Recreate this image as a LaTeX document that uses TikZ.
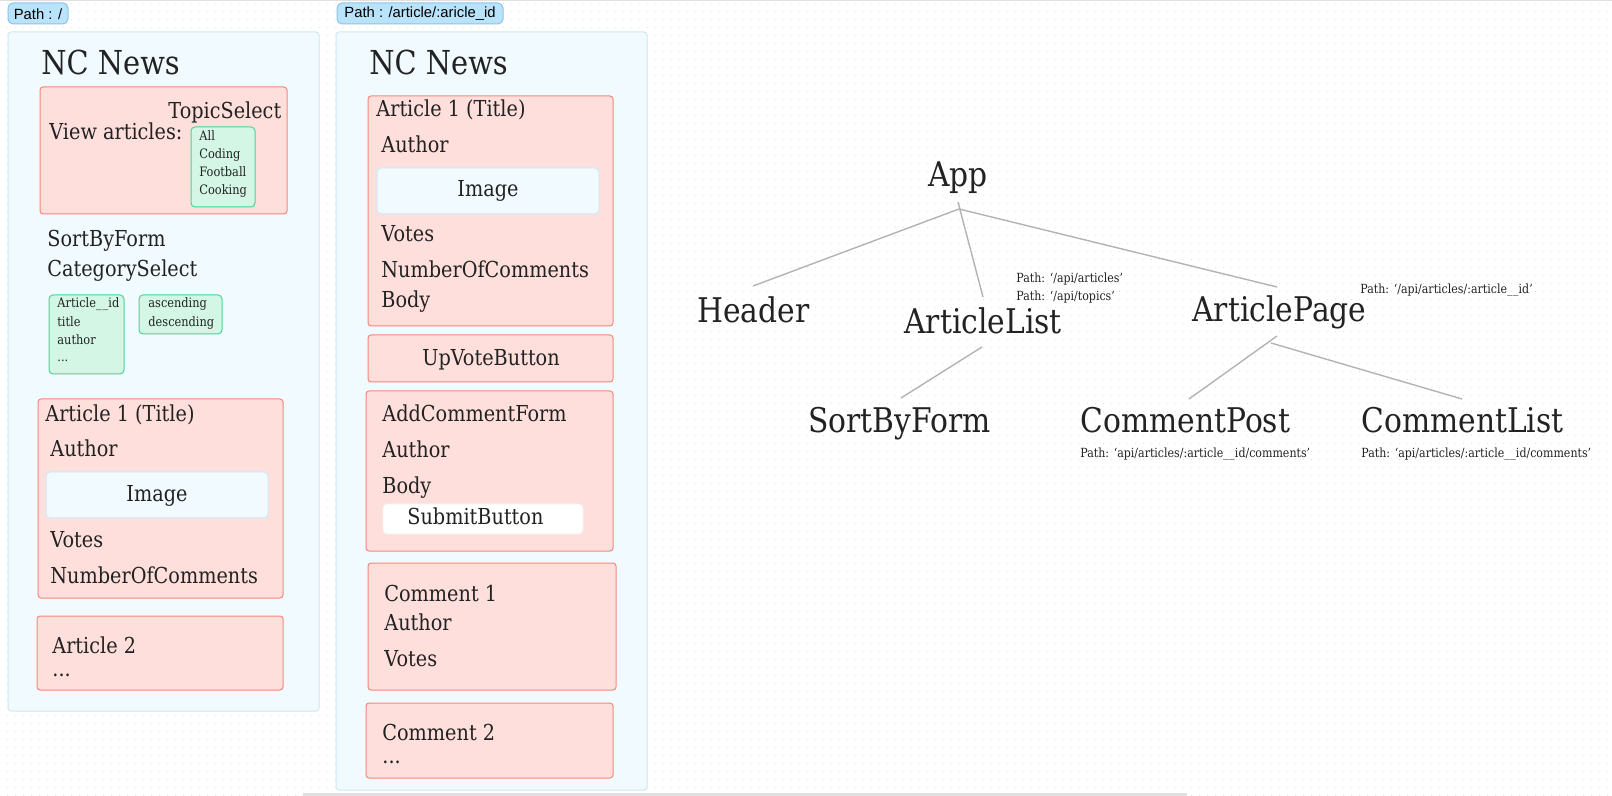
\documentclass[tikz,border=0pt]{standalone}
\usepackage{fontspec}
\setmainfont{DejaVu Serif}[FakeStretch=0.875]
\newfontfamily\badgefont{Liberation Sans}
\usetikzlibrary{patterns}
\definecolor{txt}{HTML}{222222}
\definecolor{panelfill}{HTML}{F1FAFE}
\definecolor{paneldraw}{HTML}{CFE8F7}
\definecolor{pinkfill}{HTML}{FFDFDB}
\definecolor{pinkdraw}{HTML}{F4887A}
\definecolor{greenfill}{HTML}{D3F6E5}
\definecolor{greendraw}{HTML}{45D69A}
\definecolor{badgefill}{HTML}{B9E2FB}
\definecolor{badgedraw}{HTML}{8DC6E8}
\definecolor{edgegrey}{HTML}{B3B3B3}
\definecolor{dotgrey}{HTML}{E4E4E4}
\pgfdeclarepatternformonly{dotgrid}{\pgfpointorigin}{\pgfqpoint{4pt}{4pt}}{\pgfqpoint{4pt}{4pt}}{%
  \pgfpathrectangle{\pgfqpoint{0pt}{0pt}}{\pgfqpoint{0.6pt}{0.6pt}}\pgfusepath{fill}}
\tikzset{
  lbl/.style={anchor=base west, inner sep=0pt, text=txt, font=\fontsize{11pt}{13pt}\selectfont},
  lblc/.style={lbl, anchor=base},
  tiny/.style={lbl, font=\fontsize{6.5pt}{8pt}\selectfont},
  big/.style={lbl, font=\fontsize{16.5pt}{20pt}\selectfont},
  treenode/.style={lbl, font=\fontsize{17pt}{20pt}\selectfont},
  pathlbl/.style={lbl, font=\fontsize{6.3pt}{8pt}\selectfont},
  badgetxt/.style={anchor=center, inner sep=0pt, text=black, font=\badgefont\fontsize{7.4pt}{8pt}\selectfont},
  panel/.style={fill=panelfill, draw=paneldraw, line width=0.5pt, rounded corners=1.5pt},
  pinkbox/.style={fill=pinkfill, draw=pinkdraw, line width=0.5pt, rounded corners=1.5pt},
  greenbox/.style={fill=greenfill, draw=greendraw, line width=0.5pt, rounded corners=2pt},
  imgbox/.style={fill=panelfill, draw=paneldraw, line width=0.5pt, rounded corners=2pt},
  whitebox/.style={fill=white, draw=white!95!black, line width=0.3pt, rounded corners=2pt},
  badgebox/.style={fill=badgefill, draw=badgedraw, line width=0.5pt, rounded corners=2.5pt},
  edge/.style={draw=edgegrey, line width=0.7pt}
}
\begin{document}
\begin{tikzpicture}[x=0.5pt,y=-0.5pt]
\useasboundingbox (0,0) rectangle (1612,796);
\fill[white] (0,0) rectangle (1612,796);
\fill[pattern=dotgrid, pattern color=dotgrey] (0,2) rectangle (1612,796);
\fill[black!12] (0,0) rectangle (1612,1.5);
\fill[black!12] (303,793) rectangle (1187,796);

% badges
\draw[badgebox] (8,3) rectangle (68,24);
\node[badgetxt] (b1) at (38,14) {Path : /};
\draw[badgebox] (337,3) rectangle (503,24);
\node[badgetxt] (b2) at (420,14) {Path : /article/:aricle\_id};

% ---------- left panel ----------
\draw[panel] (8,32) rectangle (319,711);
\node[big] (nc1) at (41,75) {NC News};
\draw[pinkbox] (40,87) rectangle (287,214);
\node[lbl] (topic) at (168,119) {TopicSelect};
\node[lbl] (view) at (49,140) {View articles:};
\draw[greenbox] (191,127) rectangle (255,207);
\node[tiny] (t1) at (199,141) {All};
\node[tiny] (t2) at (199,159) {Coding};
\node[tiny] (t3) at (199,177) {Football};
\node[tiny] (t4) at (199,195) {Cooking};
\node[lbl] (sbf) at (47,247) {SortByForm};
\node[lbl] (cat) at (47,277) {CategorySelect};
\draw[greenbox] (49,295) rectangle (124,374);
\node[tiny] (c1) at (57,308) {Article\_\kern0.5pt\_id};
\node[tiny] (c2) at (57,327) {title};
\node[tiny] (c3) at (57,345) {author};
\node[tiny] (c4) at (57,362) {...};
\draw[greenbox] (139,295) rectangle (222,334);
\node[tiny] (o1) at (148,308) {ascending};
\node[tiny] (o2) at (148,327) {descending};
\draw[pinkbox] (38,399) rectangle (283,598);
\node[lbl] (a1t) at (45,422) {Article 1 (Title)};
\node[lbl] (a1a) at (50,457) {Author};
\draw[imgbox] (46,472) rectangle (268,518);
\node[lblc] (a1i) at (157,502) {Image};
\node[lbl] (a1v) at (50,547) {Votes};
\node[lbl] (a1n) at (50,583) {NumberOfComments};
\draw[pinkbox] (37,616) rectangle (283,690);
\node[lbl] (a2t) at (52,653) {Article 2};
\node[lbl] (a2d) at (52,676) {...};

% ---------- middle panel ----------
\draw[panel] (336,32) rectangle (647,790);
\node[big] (nc2) at (369,75) {NC News};
\draw[pinkbox] (368,96) rectangle (613,326);
\node[lbl] (m1t) at (376,117) {Article 1 (Title)};
\node[lbl] (m1a) at (381,153) {Author};
\draw[imgbox] (377,168) rectangle (599,214);
\node[lblc] (m1i) at (488,197) {Image};
\node[lbl] (m1v) at (381,242) {Votes};
\node[lbl] (m1n) at (381,278) {NumberOfComments};
\node[lbl] (m1b) at (381,308) {Body};
\draw[pinkbox] (368,335) rectangle (613,382);
\node[lblc] (upv) at (491,366) {UpVoteButton};
\draw[pinkbox] (366,391) rectangle (613,551);
\node[lbl] (acf) at (382,422) {AddCommentForm};
\node[lbl] (acfa) at (382,458) {Author};
\node[lbl] (acfb) at (382,494) {Body};
\draw[whitebox] (383,504) rectangle (583,534);
\node[lbl] (sub) at (407,524) {SubmitButton};
\draw[pinkbox] (368,563) rectangle (616,690);
\node[lbl] (cm1) at (384,601) {Comment 1};
\node[lbl] (cm1a) at (384,630) {Author};
\node[lbl] (cm1v) at (384,666) {Votes};
\draw[pinkbox] (366,703) rectangle (613,778);
\node[lbl] (cm2) at (382,740) {Comment 2};
\node[lbl] (cm2d) at (382,763) {...};

% ---------- tree ----------
\node[treenode] (app) at (928,187) {App};
\node[treenode] (header) at (697,323) {Header};
\node[treenode] (alist) at (904,334) {ArticleList};
\node[treenode] (apage) at (1192,322) {ArticlePage};
\node[treenode] (sort) at (808,433) {SortByForm};
\node[treenode] (cpost) at (1080,433) {CommentPost};
\node[treenode] (clist) at (1361,433) {CommentList};
\node[pathlbl] (p1) at (1016,283) {Path: ‘/api/articles’};
\node[pathlbl] (p2) at (1016,301) {Path: ‘/api/topics’};
\node[pathlbl] (p3) at (1360,294) {Path: ‘/api/articles/:article\_\kern0.3pt\_id’};
\node[pathlbl] (p4) at (1080,458) {Path: ‘api/articles/:article\_\kern0.3pt\_id/comments’};
\node[pathlbl] (p5) at (1361,458) {Path: ‘api/articles/:article\_\kern0.3pt\_id/comments’};

\coordinate (appA) at (958,202);
\coordinate (appB) at (959,209);
\coordinate (headerT) at (753,286);
\coordinate (alistT) at (983,297);
\coordinate (apageT) at (1277,287);
\coordinate (alistB) at (982,347);
\coordinate (sortT) at (901,398);
\coordinate (apageB1) at (1277,336);
\coordinate (apageB2) at (1271,343);
\coordinate (cpostT) at (1189,399);
\coordinate (clistT) at (1462,399);
\draw[edge] (appB) -- (headerT);
\draw[edge] (appA) -- (alistT);
\draw[edge] (appB) -- (apageT);
\draw[edge] (alistB) -- (sortT);
\draw[edge] (apageB1) -- (cpostT);
\draw[edge] (apageB2) -- (clistT);
\end{tikzpicture}
\end{document}
